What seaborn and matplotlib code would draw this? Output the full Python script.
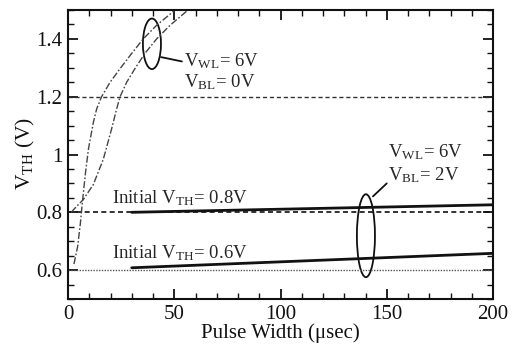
import numpy as np
import pandas as pd
import matplotlib
matplotlib.use("Agg")
import matplotlib.pyplot as plt
from matplotlib.patches import Ellipse
import seaborn as sns

# Data
curve_c_x = [1.5, 4.0, 7.2, 11.9, 16.6, 20.5, 22.9, 24.5, 27.6, 31.5, 36.2, 41.7, 48.0, 56.5]
curve_c_y = [0.80, 0.82, 0.844, 0.896, 0.983, 1.088, 1.158, 1.20, 1.25, 1.297, 1.35, 1.40, 1.447, 1.50]
curve_d_x = [2.8, 4.5, 5.8, 6.9, 8.2, 9.6, 11.9, 13.5, 15.8, 19.8, 24.5, 30.0, 35.4, 41.7, 50.4]
curve_d_y = [0.621, 0.68, 0.76, 0.844, 0.935, 1.018, 1.11, 1.158, 1.20, 1.25, 1.297, 1.35, 1.40, 1.447, 1.50]
ref_x = [0, 200]
ref12_y = [1.2, 1.2]
ref08_y = [0.8, 0.8]
ref06_y = [0.6, 0.6]
sol08_x = [30, 200]
sol08_y = [0.80, 0.826]
sol06_x = [30, 200]
sol06_y = [0.608, 0.658]

sns.set_theme(style="ticks")
plt.rcParams['font.family'] = ['Liberation Serif', 'DejaVu Serif']
plt.rcParams['mathtext.fontset'] = 'stix'

fig = plt.figure(figsize=(5.21, 3.52), dpi=100)
ax = fig.add_axes([68/521, 1-299/352, (493-68)/521, (299-10)/352])

dash = (0, (3, 2))
dashdot = (0, (5, 1.5, 1.2, 1.5))
sns.lineplot(x=ref_x, y=ref12_y, ax=ax, color='#333333', lw=1.0, linestyle=dash)
sns.lineplot(x=ref_x, y=ref08_y, ax=ax, color='#111111', lw=1.2, linestyle=dash)
sns.lineplot(x=ref_x, y=ref06_y, ax=ax, color='#555555', lw=1.0, linestyle=(0, (1, 1)))
sns.lineplot(x=curve_c_x, y=curve_c_y, ax=ax, color='#444444', lw=1.0, linestyle=dashdot, sort=False)
sns.lineplot(x=curve_d_x, y=curve_d_y, ax=ax, color='#444444', lw=1.0, linestyle=dashdot, sort=False)
sns.lineplot(x=sol08_x, y=sol08_y, ax=ax, color='#111111', lw=2.0)
sns.lineplot(x=sol06_x, y=sol06_y, ax=ax, color='#111111', lw=2.0)

ax.set_xlim(0, 200)
ax.set_ylim(0.5, 1.5)
ax.set_xticks([0, 50, 100, 150, 200])
ax.set_yticks([0.6, 0.8, 1.0, 1.2, 1.4])
ax.set_yticklabels(['0.6', '0.8', '1', '1.2', '1.4'])
ax.set_xticks(np.arange(0, 201, 10), minor=True)
ax.set_yticks(np.arange(0.5, 1.501, 0.05), minor=True)
ax.tick_params(which='both', direction='in', top=True, right=True, colors='#111111', labelsize=15)
ax.tick_params(which='major', length=7, width=1.3, pad=4)
ax.tick_params(which='minor', length=4, width=1.0)
for s in ax.spines.values():
    s.set_linewidth(1.5)
    s.set_color('#111111')

ax.set_xlabel('Pulse Width (\u03bcsec)', fontsize=15, color='#111111')
ax.set_ylabel(r'V$_\mathregular{TH}$ (V)', fontsize=15.5, color='#111111')
ax.xaxis.label.set_va('center')
ax.xaxis.set_label_coords(0.5, (299-333)/289)
ax.yaxis.label.set_va('center')
ax.yaxis.set_label_coords((25-68)/425, 0.503)

fs = 13.5
ax.add_patch(Ellipse((39.5, 1.383), 8.5, 0.175, fill=False, lw=1.3, color='#111111'))
ax.plot([43.8, 53.6], [1.337, 1.322], color='#111111', lw=1.3)
ax.text(54.5, 1.322, r'V$_\mathregular{WL}$= 6V', fontsize=fs, va='center', ha='left')
ax.text(54.5, 1.252, r'V$_\mathregular{BL}$= 0V', fontsize=fs, va='center', ha='left')

ax.add_patch(Ellipse((140.2, 0.719), 8.5, 0.287, fill=False, lw=1.3, color='#111111'))
ax.plot([143.5, 150.0], [0.855, 0.90], color='#111111', lw=1.3)
ax.text(150.6, 1.009, r'V$_\mathregular{WL}$= 6V', fontsize=fs, va='center', ha='left')
ax.text(150.6, 0.929, r'V$_\mathregular{BL}$= 2V', fontsize=fs, va='center', ha='left')

ax.text(20.7, 0.848, r'Initial V$_\mathregular{TH}$= 0.8V', fontsize=fs, va='center', ha='left')
ax.text(20.7, 0.659, r'Initial V$_\mathregular{TH}$= 0.6V', fontsize=fs, va='center', ha='left')

fig.savefig('out.png', dpi=100)
